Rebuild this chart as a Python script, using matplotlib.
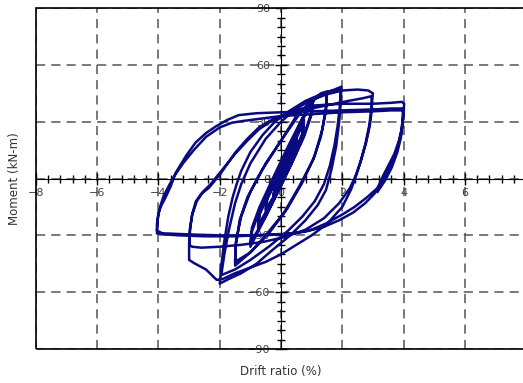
import numpy as np
import matplotlib
matplotlib.use('Agg')
import matplotlib.pyplot as plt
from matplotlib.ticker import MultipleLocator

# drift ratio (%) and moment (kN-m), one block per amplitude
drift_025 = [0, 0.12, 0.25, 0.21, 0.08, -0.1, -0.25, -0.2, -0.06, 0.1, 0.25, 0.2, 0.07, -0.1, -0.25, -0.2, -0.06]
moment_025 = [0, 5, 11, 7, 2, -4, -9, -5, 0, 5, 10.5, 6.5, 1.5, -4, -9, -5, 0]

drift_05 = [0.1, 0.3, 0.5, 0.45, 0.25, 0.0, -0.25, -0.5, -0.45, -0.25, 0.0, 0.25, 0.5, 0.45, 0.25, 0.0, -0.25, -0.5, -0.45, -0.25]
moment_05 = [4, 12, 21, 15, 7, -2, -10, -17, -11, -4, 3, 11, 20, 14, 6, -3, -10, -16, -10, -3]

drift_075 = [0.0, 0.35, 0.75, 0.7, 0.45, 0.1, -0.3, -0.75, -0.7, -0.45, -0.1, 0.35, 0.75, 0.7, 0.45, 0.1, -0.3, -0.75, -0.7, -0.45]
moment_075 = [4, 18, 31, 24, 14, 2, -12, -26, -19, -10, 1, 16, 30, 23, 13, 1, -12, -25, -18, -9]

drift_10 = [-0.1, 0.4, 0.8, 1.05, 1.0, 0.75, 0.4, 0.0, -0.5, -1.0, -0.95, -0.7, -0.3, 0.2, 0.7, 1.05, 1.0, 0.75, 0.35, -0.05, -0.5, -1.0, -0.95, -0.7]
moment_10 = [3, 21, 35, 42, 35, 23, 10, -4, -20, -36, -28, -17, -3, 14, 31, 41, 34, 22, 8, -5, -20, -34, -26, -15]

drift_15 = [-0.3, 0.2, 0.7, 1.1, 1.3, 1.5, 1.47, 1.35, 1.1, 0.7, 0.2, -0.4, -1.0, -1.5, -1.48, -1.35, -1.1, -0.6,
            0.0, 0.6, 1.0, 1.3, 1.5, 1.47, 1.3, 1.05, 0.6, 0.1, -0.5, -1.0, -1.5, -1.48, -1.3, -1.0, -0.5]
moment_15 = [-1, 16, 32, 42, 45, 46, 38, 26, 12, -2, -16, -29, -39, -46, -36, -22, -10, 5,
             20, 34, 41, 44, 45, 36, 22, 10, -4, -18, -30, -39, -44, -34, -20, -7, 8]

drift_20 = [0.0, 0.5, 1.0, 1.4, 1.75, 1.97, 1.95, 1.9, 1.8, 1.65, 1.47, 1.2, 0.8, 0.3, -0.3, -0.8, -1.3, -1.7, -2.0,
            -1.95, -1.85, -1.72, -1.58, -1.45, -1.3, -1.0, -0.6, -0.2, 0.3, 0.8, 1.3, 1.7, 1.95,
            1.92, 1.85, 1.75, 1.6, 1.4, 1.1, 0.7, 0.2, -0.4, -1.0, -1.5, -1.95]
moment_20 = [20, 33, 41, 45, 47, 48.5, 40, 30, 17, 5, -6, -14, -22, -30, -38, -45, -50, -53, -55.5,
             -46, -33, -20, -10, -3, 4, 14, 23, 30, 36, 41, 44.5, 46.5, 47,
             38, 28, 18, 7, -3, -12, -20, -28, -36, -43, -48, -51]

drift_30 = [-1.85, -1.7, -1.5, -1.3, -1.0, -0.5, 0.0, 0.5, 1.0, 1.5, 2.0, 2.5, 2.85, 3.0,
            2.96, 2.88, 2.75, 2.58, 2.42, 2.28, 2.0, 1.5, 1.0, 0.5, 0.0, -0.5, -1.0, -1.5, -1.9, -2.1, -2.45, -2.8, -3.0,
            -3.0, -2.97, -2.9, -2.78, -2.6, -2.36, -2.0, -1.48, -1.1, -0.72, -0.3, 0.3, 1.0, 1.6, 2.2, 2.7, 2.95,
            2.97, 2.9, 2.78, 2.62, 2.45, 2.25, 1.9, 1.4, 0.8, 0.1, -0.6, -1.3, -2.0, -2.6, -2.9, -3.0]
moment_30 = [-40, -27, -13, -3, 8, 21, 30, 37, 41.5, 44.5, 46.5, 47, 46.5, 45,
             38, 28, 18, 8, 0, -6, -15, -24, -30, -35, -40, -44, -47, -50, -53, -53.5, -48, -45, -43,
             -35, -26, -19, -12, -8, -5, 2, 14, 21, 27, 31, 34, 37, 39, 41, 42.5, 43.5,
             37, 28, 19, 10, 2, -5, -13, -21, -27, -31, -33.5, -35, -36, -36.5, -36, -35]

drift_40 = [-2.97, -2.9, -2.75, -2.55, -2.3, -1.9, -1.5, -1.1, -0.72, -0.3, 0.0, 0.5, 1.0, 2.0, 3.0, 3.6, 3.95, 4.02,
            4.0, 3.95, 3.85, 3.7, 3.54, 3.35, 3.15, 2.8, 2.4, 2.0, 1.5, 1.0, 0.4, -0.3, -1.0, -2.0, -3.0, -3.7, -4.05,
            -4.05, -4.0, -3.9, -3.77, -3.6, -3.44, -3.1, -2.79, -2.45, -2.13, -1.75, -1.38, -0.8, 0.0, 1.0, 2.0, 3.0, 3.6, 3.98,
            3.97, 3.92, 3.82, 3.66, 3.48, 3.28, 3.05, 2.75, 2.35, 1.9, 1.4, 0.8, 0.1, -0.7, -1.6, -2.5, -3.3, -3.8, -4.05,
            -4.02, -3.95, -3.85, -3.7, -3.5, -3.2, -2.85, -2.45, -2.0, -1.6, -1.2, -0.72, 0.0, 1.0, 2.0, 3.0, 3.6, 4.0,
            3.98, 3.92, 3.8, 3.62, 3.4, 3.15]
moment_40 = [-27, -19, -12, -7, -3, 5, 13, 20, 26, 30.5, 33, 36, 38.5, 39.5, 39.5, 40, 40.5, 39.5,
             34, 27, 20, 13, 8, 2, -5, -10, -15, -19, -23.5, -27, -29, -29.5, -30, -30, -29.5, -29, -29,
             -24, -18, -14, -10, -4, 3, 12, 19, 24, 27.5, 31, 33.5, 34.5, 35, 35.5, 36, 36.5, 37, 37,
             31, 24, 17, 10, 4, -2, -8, -13, -18, -22, -25.5, -28, -29.5, -30, -30.5, -30.5, -30, -29.5, -27.5,
             -21, -15, -10, -5, 1, 8, 15, 22, 27, 29.5, 30.5, 31.5, 33, 34, 35, 35.5, 36, 36,
             30, 22, 14, 6, -1, -7]

drift = np.concatenate([drift_025, drift_05, drift_075, drift_10, drift_15, drift_20, drift_30, drift_40])
moment = np.concatenate([moment_025, moment_05, moment_075, moment_10, moment_15, moment_20, moment_30, moment_40])

fig = plt.figure(figsize=(5.23, 3.83), dpi=100)
ax = fig.add_axes([0.0688, 0.0888, 0.937, 0.890])

ax.plot(drift, moment, color='#0a0a80', lw=1.8, solid_joinstyle='round', zorder=3)

ax.set_xlim(-8, 8)
ax.set_ylim(-90, 90)

# axes through the origin, plus a plain frame
ax.spines['left'].set_position(('data', 0))
ax.spines['bottom'].set_position(('data', 0))
ax.spines['top'].set_visible(False)
ax.spines['right'].set_visible(False)
ax.add_patch(plt.Rectangle((0, 0), 1, 1, transform=ax.transAxes, fill=False,
                           lw=1.2, edgecolor='black', clip_on=False, zorder=4))

ax.xaxis.set_major_locator(MultipleLocator(2))
ax.xaxis.set_minor_locator(MultipleLocator(0.4))
ax.yaxis.set_major_locator(MultipleLocator(30))
ax.yaxis.set_minor_locator(MultipleLocator(5))

ax.tick_params(which='both', direction='inout', width=1, labelsize=8, labelcolor='#444444')
ax.tick_params(which='major', length=8)
ax.tick_params(which='minor', length=6)
ax.tick_params(axis='x', pad=3)
ax.tick_params(axis='y', pad=4)

ax.grid(True, which='major', color='#555555', lw=1.1, linestyle=(0, (6, 4)))

ax.set_xlabel('Drift ratio (%)', fontsize=8.5, color='#333333')
ax.xaxis.set_label_coords(0.5, -0.047)
ax.set_ylabel('Moment (kN-m)', fontsize=8.5, color='#333333')
ax.yaxis.set_label_coords(-0.031, 0.5)

fig.savefig('out.png', dpi=100)
